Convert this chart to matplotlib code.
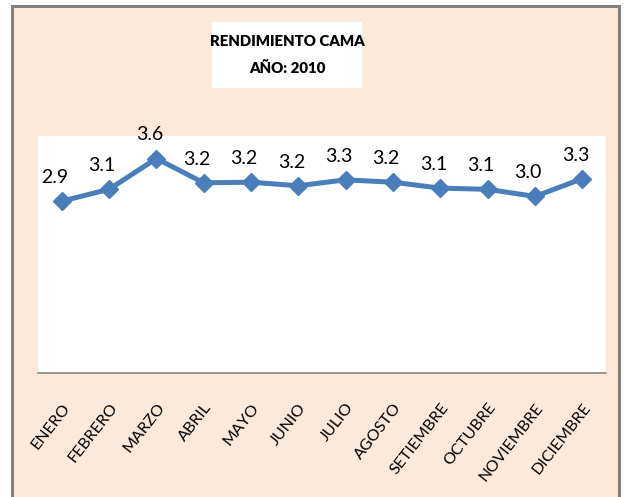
import matplotlib
matplotlib.use("Agg")
import matplotlib.pyplot as plt
from matplotlib.patches import Rectangle

months = ["ENERO", "FEBRERO", "MARZO", "ABRIL", "MAYO", "JUNIO", "JULIO",
          "AGOSTO", "SETIEMBRE", "OCTUBRE", "NOVIEMBRE", "DICIEMBRE"]
rendimiento = [2.90, 3.10, 3.62, 3.21, 3.22, 3.16, 3.26, 3.22, 3.12, 3.10, 2.98, 3.28]
title_lines = ["RENDIMIENTO CAMA", "AÑO: 2010"]

FONT = ["Lato", "DejaVu Sans"]
W, H = 624, 497
fig = plt.figure(figsize=(W / 100, H / 100), dpi=100)
fig.patch.set_facecolor("white")

peach = "#FDE9D9"
# outer chart area with gray border
fig.add_artist(Rectangle((12 / W, -0.02), (619 - 12) / W, (H - 6) / H + 0.02,
                         transform=fig.transFigure, facecolor=peach,
                         edgecolor="#808080", linewidth=2.2, zorder=0))
# title box
fig.add_artist(Rectangle((212 / W, (H - 88) / H), (362 - 212) / W, (88 - 22) / H,
                         transform=fig.transFigure, facecolor="white",
                         edgecolor="none", zorder=1))
fig.text(287 / W, (H - 42) / H, title_lines[0], ha="center", va="center",
         fontsize=10.8, fontweight="heavy", family=FONT, zorder=2)
fig.text(287 / W, (H - 68) / H, title_lines[1], ha="center", va="center",
         fontsize=10.8, fontweight="heavy", family=FONT, zorder=2)

left, right, top, bottom = 38, 606, 136, 373
ax = fig.add_axes([left / W, (H - bottom) / H, (right - left) / W, (bottom - top) / H])
ax.set_facecolor("white")
x = list(range(len(months)))
ax.plot(x, rendimiento, color="#4A7EBB", linewidth=3.6, marker="D",
        markersize=9.5, markerfacecolor="#4A7EBB", markeredgecolor="#4A7EBB", zorder=3)
for xi, v in zip(x, rendimiento):
    ax.annotate(f"{v:.1f}", (xi, v), xytext=(-5, 17), textcoords="offset points",
                ha="center", va="center", fontsize=14, family=FONT, color="black")

ax.set_xlim(-0.5, len(months) - 0.5)
ax.set_ylim(0, 4)
ax.set_yticks([])
ax.set_xticks(x)
ax.set_xticklabels(months, rotation=52, ha="right", rotation_mode="anchor",
                   fontsize=11.5, family=FONT)
ax.tick_params(axis="x", length=0, pad=20)
for s in ["top", "left", "right"]:
    ax.spines[s].set_visible(False)
ax.spines["bottom"].set_color("#868686")
ax.spines["bottom"].set_linewidth(1.2)

fig.savefig("out.png", dpi=100, facecolor=fig.get_facecolor())
